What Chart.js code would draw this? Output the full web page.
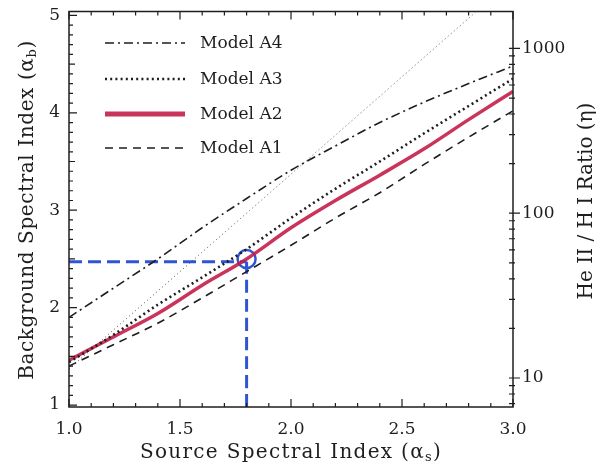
<!DOCTYPE html>
<html>
<head>
<meta charset="utf-8">
<script src="https://cdn.jsdelivr.net/npm/chart.js@4.4.1/dist/chart.umd.min.js"></script>
<style>
  html, body { margin: 0; padding: 0; background: #fff; }
</style>
</head>
<body>
<canvas id="chart" width="604" height="469"></canvas>
<script>
// values
const alpha_s  = [1.0, 1.2, 1.4, 1.6, 1.8, 2.0, 2.2, 2.4, 2.6, 2.8, 3.0];
const model_a4 = [1.90, 2.20, 2.50, 2.82, 3.12, 3.41, 3.66, 3.90, 4.11, 4.30, 4.48];
const model_a3 = [1.44, 1.72, 2.03, 2.31, 2.60, 2.92, 3.22, 3.50, 3.79, 4.07, 4.35];
const model_a2 = [1.46, 1.70, 1.94, 2.23, 2.50, 2.82, 3.10, 3.36, 3.63, 3.93, 4.22];
const model_a1 = [1.40, 1.62, 1.84, 2.10, 2.37, 2.64, 2.92, 3.18, 3.47, 3.75, 4.02];

// thin dotted reference line (end points)
const ref_x = [1.0, 2.83];
const ref_y = [1.37, 5.03];

// blue marker: chosen source index and resulting background index
const mark_x = 1.8;
const mark_y = 2.47;

const x_ticks = [1.0, 1.5, 2.0, 2.5, 3.0];
const y_ticks = [1, 2, 3, 4, 5];
const eta_ticks = [10, 100, 1000];
const y_range = [0.98, 5.04];
const eta_range = [6.67, 1675];

const model_labels = ["Model A4", "Model A3", "Model A2", "Model A1"];

const FONT = "'DejaVu Serif', 'Liberation Serif', serif";
const INK = '#1e1e1e';
const BLUE = '#2f55d4';

function pts(xs, ys) {
    return xs.map((x, i) => ({x: x, y: ys[i]}));
}

const datasets = [
    {label: model_labels[0], data: pts(alpha_s, model_a4), borderColor: INK, borderWidth: 1.6, borderDash: [9, 4, 2, 4]},
    {label: model_labels[1], data: pts(alpha_s, model_a3), borderColor: INK, borderWidth: 2.6, borderDash: [2, 3.2]},
    {label: model_labels[2], data: pts(alpha_s, model_a2), borderColor: 'rgba(196,30,72,0.9)', borderWidth: 3.5, borderDash: []},
    {label: model_labels[3], data: pts(alpha_s, model_a1), borderColor: INK, borderWidth: 1.6, borderDash: [8, 6]},
    {label: 'ref', data: pts(ref_x, ref_y), borderColor: '#555', borderWidth: 1, borderDash: [1, 3]},
    {label: 'guide-h', data: [{x: 1.0, y: mark_y}, {x: mark_x, y: mark_y}], borderColor: BLUE, borderWidth: 3, borderDash: [13, 6]},
    {label: 'guide-v', data: [{x: mark_x, y: y_range[0]}, {x: mark_x, y: mark_y}], borderColor: BLUE, borderWidth: 3, borderDash: [13, 6]},
    {label: 'mark', data: [{x: mark_x, y: mark_y + 0.03}], showLine: false, pointRadius: 9, pointStyle: 'circle',
     borderColor: BLUE, pointBorderWidth: 2.5, backgroundColor: 'rgba(0,0,0,0)'}
];
datasets.forEach(d => {
    d.fill = false;
    d.tension = 0.35;
    d.cubicInterpolationMode = 'monotone';
    if (d.pointRadius === undefined) d.pointRadius = 0;
});

// frame with inward ticks
const framePlugin = {
    id: 'frame',
    afterDatasetsDraw(chart) {
        const ctx = chart.ctx;
        const a = chart.chartArea;
        const sx = chart.scales.x, sy = chart.scales.y, se = chart.scales.eta;
        ctx.save();
        ctx.strokeStyle = INK;
        ctx.lineWidth = 1.5;
        ctx.strokeRect(a.left, a.top, a.right - a.left, a.bottom - a.top);
        ctx.lineWidth = 1.2;
        ctx.beginPath();
        for (let i = 0; i <= 20; i++) {
            const v = 1 + i * 0.1;
            const px = sx.getPixelForValue(v);
            const len = (i % 5 == 0) ? 8 : 4;
            ctx.moveTo(px, a.bottom); ctx.lineTo(px, a.bottom - len);
            ctx.moveTo(px, a.top); ctx.lineTo(px, a.top + len);
        }
        for (let i = 0; i <= 40; i++) {
            const v = 1 + i * 0.1;
            const py = sy.getPixelForValue(v);
            const len = (i % 10 == 0) ? 8 : (i % 5 == 0 ? 6 : 4);
            ctx.moveTo(a.left, py); ctx.lineTo(a.left + len, py);
        }
        for (let d = 1; d <= 1000; d *= 10) {
            for (let m = 1; m <= 9; m++) {
                const v = m * d;
                if (v < eta_range[0] || v > eta_range[1]) continue;
                const py = se.getPixelForValue(v);
                if (m == 1) { ctx.moveTo(a.right - 4, py); ctx.lineTo(a.right + 7, py); }
                else { ctx.moveTo(a.right - 4, py); ctx.lineTo(a.right + 2, py); }
            }
        }
        ctx.stroke();
        ctx.restore();
    }
};

// legend in the upper left corner
const legendPlugin = {
    id: 'modelLegend',
    afterDatasetsDraw(chart) {
        const ctx = chart.ctx;
        const rows = [43, 79, 114, 148];
        ctx.save();
        ctx.font = '17px ' + FONT;
        ctx.textBaseline = 'middle';
        ctx.fillStyle = INK;
        for (let i = 0; i < 4; i++) {
            const d = chart.data.datasets[i];
            ctx.strokeStyle = d.borderColor;
            ctx.lineWidth = (i == 2) ? 5 : d.borderWidth;
            ctx.setLineDash(d.borderDash);
            ctx.beginPath();
            ctx.moveTo(105, rows[i]);
            ctx.lineTo(185, rows[i]);
            ctx.stroke();
            ctx.fillText(d.label, 200, rows[i] + 1);
        }
        ctx.restore();
    }
};

// axis titles with subscripts
function drawTitle(ctx, parts, cx, cy, rot, spacing) {
    const big = '20px ' + FONT, small = '13px ' + FONT;
    ctx.save();
    ctx.letterSpacing = spacing + 'px';
    let w = 0;
    parts.forEach(p => { ctx.font = p[1] ? small : big; w += ctx.measureText(p[0]).width; });
    ctx.translate(cx, cy);
    ctx.rotate(rot);
    ctx.fillStyle = INK;
    ctx.textBaseline = 'middle';
    let x = -w / 2;
    parts.forEach(p => {
        ctx.font = p[1] ? small : big;
        ctx.fillText(p[0], x, p[1] ? 5 : 0);
        x += ctx.measureText(p[0]).width;
    });
    ctx.restore();
}

const titlePlugin = {
    id: 'titles',
    afterDraw(chart) {
        const ctx = chart.ctx;
        drawTitle(ctx, [['Source Spectral Index (\u03b1', false], ['s', true], [')', false]], 291, 453, 0, 1.3);
        drawTitle(ctx, [['Background Spectral Index (\u03b1', false], ['b', true], [')', false]], 28, 210, -Math.PI / 2, 0.6);
        drawTitle(ctx, [['He II / H I Ratio (\u03b7)', false]], 587, 201, -Math.PI / 2, 0);
    }
};

function noPad(s) {
    s.paddingTop = 0; s.paddingBottom = 0; s.paddingLeft = 0; s.paddingRight = 0;
}

const ctx_chart = document.getElementById('chart');
const chart = new Chart(ctx_chart, {
    type: 'line',
    data: {datasets: datasets},
    plugins: [framePlugin, legendPlugin, titlePlugin],
    options: {
        responsive: false,
        animation: false,
        devicePixelRatio: 1,
        layout: {padding: {top: 10, left: 0, right: 0, bottom: 0}},
        plugins: {legend: {display: false}, tooltip: {enabled: false}},
        scales: {
            x: {
                type: 'linear', position: 'bottom', min: 1.0, max: 3.0,
                grid: {display: false, drawTicks: false}, border: {display: false},
                afterBuildTicks: s => { s.ticks = x_ticks.map(v => ({value: v})); },
                afterFit: s => { s.height = 62; noPad(s); },
                ticks: {padding: 12, color: INK, font: {family: FONT, size: 17}, maxRotation: 0,
                        callback: v => Number(v).toFixed(1)}
            },
            y: {
                type: 'linear', position: 'left', min: y_range[0], max: y_range[1],
                grid: {display: false, drawTicks: false}, border: {display: false},
                afterBuildTicks: s => { s.ticks = y_ticks.map(v => ({value: v})); },
                afterFit: s => { s.width = 69; noPad(s); },
                ticks: {padding: 9, color: INK, font: {family: FONT, size: 17}, callback: v => String(v)}
            },
            eta: {
                type: 'logarithmic', position: 'right', min: eta_range[0], max: eta_range[1],
                grid: {display: false, drawTicks: false}, border: {display: false},
                afterBuildTicks: s => { s.ticks = eta_ticks.map(v => ({value: v})); },
                afterFit: s => { s.width = 91; noPad(s); },
                ticks: {padding: 9, color: INK, font: {family: FONT, size: 17}, callback: v => String(v)}
            }
        }
    }
});
</script>
</body>
</html>
